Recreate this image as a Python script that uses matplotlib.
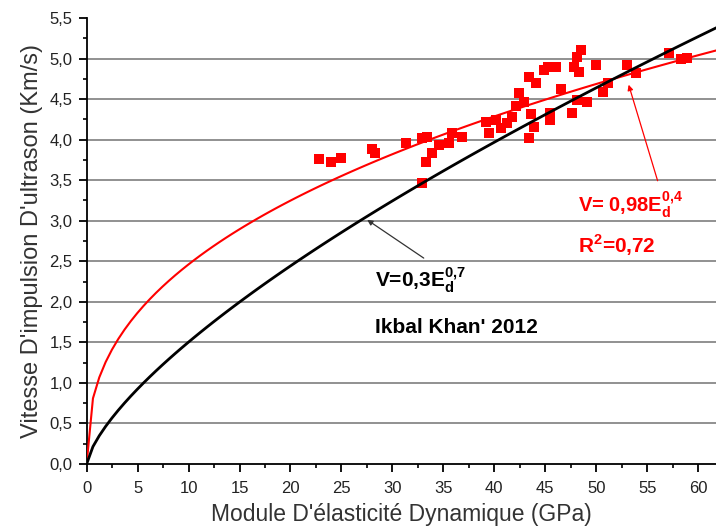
import numpy as np
import matplotlib
matplotlib.use('Agg')
import matplotlib.pyplot as plt
from matplotlib.ticker import MultipleLocator, FuncFormatter

plt.rcParams['font.family'] = ['Liberation Sans', 'DejaVu Sans']

# Points mesurés (E en GPa, V en km/s)
E_mes = [22.8, 24.0, 25.0, 28.0, 28.3, 31.3, 32.9, 33.4, 32.9, 33.3, 33.9, 34.6,
         35.6, 35.8, 36.8, 39.2, 39.5, 40.2, 40.7, 41.2, 41.7, 42.1, 42.4, 42.9,
         43.4, 43.6, 43.4, 43.9, 44.1, 44.9, 45.3, 45.8, 45.5, 45.5, 46.1, 46.5,
         47.6, 48.1, 47.8, 48.1, 48.5, 48.3, 49.1, 50.0, 50.7, 51.2, 53.0, 53.9,
         57.1, 58.3, 58.9]
V_mes = [3.76, 3.73, 3.77, 3.88, 3.83, 3.96, 4.02, 4.03, 3.47, 3.72, 3.83, 3.93,
         3.96, 4.08, 4.03, 4.22, 4.08, 4.24, 4.14, 4.21, 4.28, 4.42, 4.57, 4.46,
         4.77, 4.31, 4.02, 4.16, 4.70, 4.86, 4.90, 4.89, 4.33, 4.24, 4.90, 4.63,
         4.33, 4.49, 4.89, 5.02, 5.11, 4.83, 4.46, 4.92, 4.59, 4.70, 4.92, 4.82,
         5.07, 4.99, 5.01]

# Lois de puissance V = a * E^b
a_fit, b_fit = 0.98, 0.4      # ajustement (rouge)
a_khan, b_khan = 0.3, 0.7     # Ikbal Khan 2012 (noir)

E = np.linspace(0, 62, 101)

fig = plt.figure(figsize=(7.16, 5.32), dpi=100)
ax = fig.add_axes([0.121, 0.1278, 0.879, 0.8384])

ax.scatter(E_mes, V_mes, marker='s', s=55, color='#ff0000', linewidths=0, zorder=2)
ax.plot(E, a_fit * E ** b_fit, color='#ff0000', lw=1.5, zorder=3)
ax.plot(E, a_khan * E ** b_khan, color='black', lw=2, zorder=3)

ax.set_xlim(0, 61.75)
ax.set_ylim(0, 5.5)
ax.xaxis.set_major_locator(MultipleLocator(5))
ax.xaxis.set_minor_locator(MultipleLocator(2.5))
ax.yaxis.set_major_locator(MultipleLocator(0.5))
ax.yaxis.set_minor_locator(MultipleLocator(0.25))
ax.yaxis.set_major_formatter(FuncFormatter(lambda v, p: f'{v:.1f}'.replace('.', ',')))
ax.tick_params(which='major', direction='out', length=6, width=1.3, labelsize=12,
               labelcolor='#222222')
ax.tick_params(axis='x', which='major', pad=6)
ax.tick_params(axis='y', which='major', pad=4)
ax.tick_params(which='minor', direction='out', length=3, width=1.2)

for y in np.arange(0.5, 5.01, 0.5):
    ax.axhline(y, color='#888888', lw=1.3, zorder=1)

ax.spines['top'].set_visible(False)
ax.spines['right'].set_visible(False)
ax.spines['left'].set_linewidth(1.3)
ax.spines['bottom'].set_linewidth(1.3)

ax.set_xlabel("Module D'élasticité Dynamique (GPa)", fontsize=16.5, color='#333333', labelpad=5)
ax.set_ylabel("Vitesse D'impulsion D'ultrason (Km/s)", fontsize=17, color='#333333', labelpad=5)

# annotations
ax.text(48.2, 3.19, r'V= 0,98E$_{\mathregular{d}}^{\mathregular{0{,}4}}$', color='#ff0000',
        fontsize=14.5, fontweight='bold', va='center')
ax.text(48.2, 2.70, r'R$^{\mathregular{2}}$=0,72', color='#ff0000', fontsize=15,
        fontweight='bold', va='center')
ax.annotate('', xy=(53.1, 4.71), xytext=(56.1, 3.46),
            arrowprops=dict(arrowstyle='-|>', color='#ff0000', lw=0.9, mutation_scale=8))

ax.text(28.3, 2.27, r'V=0,3E$_{\mathregular{d}}^{\mathregular{0{,}7}}$', color='black',
        fontsize=15, fontweight='bold', va='center')
ax.text(28.3, 1.68, "Ikbal Khan' 2012", color='black', fontsize=15,
        fontweight='bold', va='center')
ax.annotate('', xy=(27.3, 3.03), xytext=(33.3, 2.52),
            arrowprops=dict(arrowstyle='-|>', color='#333333', lw=0.9, mutation_scale=8))

fig.savefig('out.png', dpi=100)
